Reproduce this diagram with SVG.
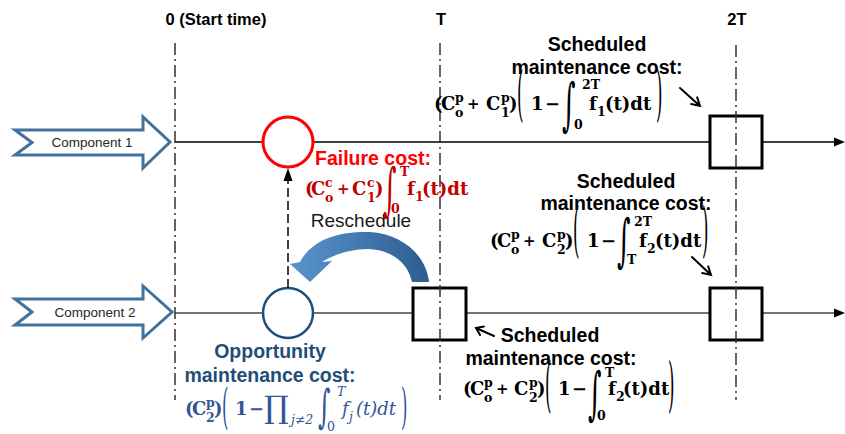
<svg xmlns="http://www.w3.org/2000/svg" width="845" height="434" viewBox="0 0 845 434">
<style>
.axis{stroke:#333;stroke-width:1.5;stroke-dasharray:12 4 2 4;fill:none}
.tl{stroke:#000;stroke-width:1.3;fill:none}
.tl2{stroke:#444;stroke-width:1.5;fill:none}
.box{fill:#fff;stroke:#000;stroke-width:3}
.comp{fill:#fff;stroke:#41719C;stroke-width:3;stroke-linejoin:miter}
.hdr{font-family:"Liberation Sans",Arial,sans-serif;font-weight:bold;font-size:16.5px;fill:#000;text-anchor:middle}
.cl{font-family:"Liberation Sans",Arial,sans-serif;font-size:13.5px;fill:#262626;text-anchor:middle}
.lab{font-family:"Liberation Sans",Arial,sans-serif;font-weight:bold;font-size:19.5px;fill:#000;text-anchor:middle}
.m{font-family:"DejaVu Serif","Liberation Serif",serif;font-weight:bold;font-size:18px}
.s{font-size:12.5px}
.pl{font-size:15px}
.big{font-family:"DejaVu Serif","Liberation Serif",serif;font-weight:normal;font-size:22px}
.int{font-family:"DejaVu Serif","Liberation Serif",serif;font-weight:normal;font-size:26px}
.it{font-style:italic;font-weight:normal}
.ann{stroke:#000;stroke-width:2;fill:none;stroke-linecap:round}
</style>
<defs>
<linearGradient id="rg" x1="0" y1="0" x2="1" y2="0">
<stop offset="0" stop-color="#5A95CF"/>
<stop offset="1" stop-color="#2C5D90"/>
</linearGradient>
</defs>
<rect width="845" height="434" fill="#fff"/>

<g id="timelines">
<line class="tl" x1="175" y1="142" x2="838" y2="142"/>
<polygon points="845,142 834,137.5 834,146.5" fill="#000"/>
<line class="tl2" x1="175" y1="313" x2="838" y2="313"/>
<polygon points="845,313 834,308.5 834,317.5" fill="#000"/>
</g>

<g id="component1">
<path class="comp" d="M15 130 L143 130 L143 117 L170 142 L143 168 L143 155 L15 155 L32 142.5 Z"/>
<text class="cl" x="92" y="147">Component 1</text>
</g>
<g id="component2">
<path class="comp" d="M15 299 L143 299 L143 286 L172 312 L143 338 L143 325 L15 325 L32 312 Z"/>
<text class="cl" x="95" y="317">Component 2</text>
</g>

<g id="failure">
<circle cx="288" cy="142" r="25" fill="#fff" stroke="#FF0000" stroke-width="3"/>
</g>
<g id="opportunity">
<circle cx="288" cy="313" r="25" fill="#fff" stroke="#1F4E79" stroke-width="2.5"/>
</g>
<g id="box-c1-2T"><rect class="box" x="710" y="116" width="52" height="52"/></g>
<g id="box-c2-T"><rect class="box" x="413" y="288" width="53" height="52"/></g>
<g id="box-c2-2T"><rect class="box" x="710" y="288" width="52" height="52"/></g>

<g id="axes">
<line class="axis" x1="175" y1="43" x2="175" y2="400"/>
<line class="axis" x1="440" y1="43" x2="440" y2="400"/>
<line class="axis" x1="736" y1="45" x2="736" y2="400"/>
<text class="hdr" x="216" y="25">0 (Start time)</text>
<text class="hdr" x="441" y="25">T</text>
<text class="hdr" x="737" y="25">2T</text>
</g>

<g id="connectors">
<line x1="288" y1="288" x2="288" y2="181" stroke="#000" stroke-width="1.5" stroke-dasharray="9 4"/>
<polygon points="288,168 283.5,181 292.5,181" fill="#000"/>
<path d="M310 282 L290 264 L300 262 C312 239 340 231 370 232 C401 234 426 254 429 282 L412 282 C408 263 392 250 368 249 C350 249 333 255 322 262 L332 261 Z" fill="url(#rg)"/>
<path class="ann" d="M680 88 L700 106 M697.2 97.4 L700 106 L691.2 104.1"/>
<path class="ann" d="M692 257 L711 275 M708.2 266.4 L711 275 L702.2 273.1"/>
<path class="ann" d="M494 336 L476 328 M480.1 334.9 L476 328 L483.9 326.5"/>
</g>

<g id="reschedule-label">
<text x="361" y="227" font-family="Liberation Sans, Arial, sans-serif" font-size="19px" fill="#1a1a1a" text-anchor="middle">Reschedule</text>
</g>

<g id="label-failure">
<text class="lab" x="373" y="165" style="fill:#FF0000">Failure cost:</text>
<g class="m" fill="#C00000">
<text x="305" y="195">(</text>
<text x="311" y="195">C</text>
<text class="s" x="325" y="187">c</text>
<text class="s" x="325" y="202">o</text>
<text class="pl" x="337" y="194">+</text>
<text x="352" y="195">C</text>
<text class="s" x="367" y="187">c</text>
<text class="s" x="367" y="202">1</text>
<text x="375" y="195">)</text>
<text class="int" transform="translate(383,209) scale(1,2.2)">∫</text>
<text class="s" x="400" y="176">T</text>
<text class="s" x="391" y="213">0</text>
<text x="407" y="195">f</text>
<text class="s" x="415" y="201">1</text>
<text x="422" y="195">(t)dt</text>
</g>
</g>

<g id="label-sched-c1-2T">
<text class="lab" x="597" y="51">Scheduled</text>
<text class="lab" x="597" y="74">maintenance cost:</text>
<g class="m" fill="#000">
<text x="434" y="110">(</text>
<text x="441" y="110">C</text>
<text class="s" x="455" y="102">p</text>
<text class="s" x="455" y="117">o</text>
<text class="pl" x="467" y="109">+</text>
<text x="486" y="110">C</text>
<text class="s" x="501" y="102">p</text>
<text class="s" x="501" y="117">1</text>
<text x="509" y="110">)</text>
<text class="big" transform="translate(517,114) scale(0.75,2.7)">(</text>
<text x="531" y="110">1</text>
<text x="545" y="110">−</text>
<text class="int" transform="translate(562,124) scale(1,2.2)">∫</text>
<text class="s" x="582" y="89">2T</text>
<text class="s" x="574" y="129">0</text>
<text x="589" y="110">f</text>
<text class="s" x="597" y="116">1</text>
<text x="605" y="110">(t)dt</text>
<text class="big" transform="translate(656,114) scale(0.75,2.7)">)</text>
</g>
</g>

<g id="label-sched-c2-2T">
<text class="lab" x="626" y="188">Scheduled</text>
<text class="lab" x="626" y="210">maintenance cost:</text>
<g class="m" fill="#000">
<text x="490" y="247">(</text>
<text x="497" y="247">C</text>
<text class="s" x="511" y="239">p</text>
<text class="s" x="511" y="254">o</text>
<text class="pl" x="523" y="246">+</text>
<text x="542" y="247">C</text>
<text class="s" x="557" y="239">p</text>
<text class="s" x="557" y="254">2</text>
<text x="565" y="247">)</text>
<text class="big" transform="translate(573,250) scale(0.75,2.7)">(</text>
<text x="587" y="247">1</text>
<text x="601" y="247">−</text>
<text class="int" transform="translate(617,260) scale(1,2.2)">∫</text>
<text class="s" x="634" y="226">2T</text>
<text class="s" x="627" y="264">T</text>
<text x="639" y="247">f</text>
<text class="s" x="647" y="253">2</text>
<text x="655" y="247">(t)dt</text>
<text class="big" transform="translate(702,250) scale(0.75,2.7)">)</text>
</g>
</g>

<g id="label-sched-c2-T">
<text class="lab" x="550" y="342">Scheduled</text>
<text class="lab" x="551" y="365">maintenance cost:</text>
<g class="m" fill="#000">
<text x="463" y="395">(</text>
<text x="470" y="395">C</text>
<text class="s" x="484" y="387">p</text>
<text class="s" x="484" y="402">o</text>
<text class="pl" x="496" y="394">+</text>
<text x="514" y="395">C</text>
<text class="s" x="529" y="387">p</text>
<text class="s" x="529" y="402">2</text>
<text x="537" y="395">)</text>
<text class="big" transform="translate(545,405) scale(0.75,2.7)">(</text>
<text x="558" y="395">1</text>
<text x="572" y="395">−</text>
<text class="int" transform="translate(588,413) scale(1,2.2)">∫</text>
<text class="s" x="605" y="377">T</text>
<text class="s" x="597" y="420">0</text>
<text x="608" y="395">f</text>
<text class="s" x="616" y="401">2</text>
<text x="623" y="395">(t)dt</text>
<text class="big" transform="translate(668,405) scale(0.75,2.7)">)</text>
</g>
</g>

<g id="label-opportunity">
<text class="lab" x="270" y="358" style="fill:#1F4E79">Opportunity</text>
<text class="lab" x="270" y="382" style="fill:#1F4E79">maintenance cost:</text>
<g class="m" fill="#2F5597">
<text x="185" y="415">(</text>
<text x="192" y="415">C</text>
<text class="s" x="206" y="407">p</text>
<text class="s" x="206" y="422">2</text>
<text x="214" y="415">)</text>
<text class="big" transform="translate(222,422.5) scale(0.75,2.2)">(</text>
<text x="235" y="415">1</text>
<text x="249" y="415">−</text>
<text x="264" y="418" style="font-size:31px;font-weight:normal">∏</text>
<text class="s it" x="291" y="424">j≠2</text>
<text class="int" style="font-size:24px" transform="translate(318,421.5) scale(1,1.9)">∫</text>
<text class="s it" x="337" y="396">T</text>
<text class="s" x="327" y="431" style="font-weight:normal">0</text>
<text class="it" x="342" y="415">f</text>
<text class="s it" x="349" y="421">j</text>
<text class="it" x="356" y="415">(t)dt</text>
<text class="big" transform="translate(401,422.5) scale(0.75,2.2)">)</text>
</g>
</g>
</svg>
